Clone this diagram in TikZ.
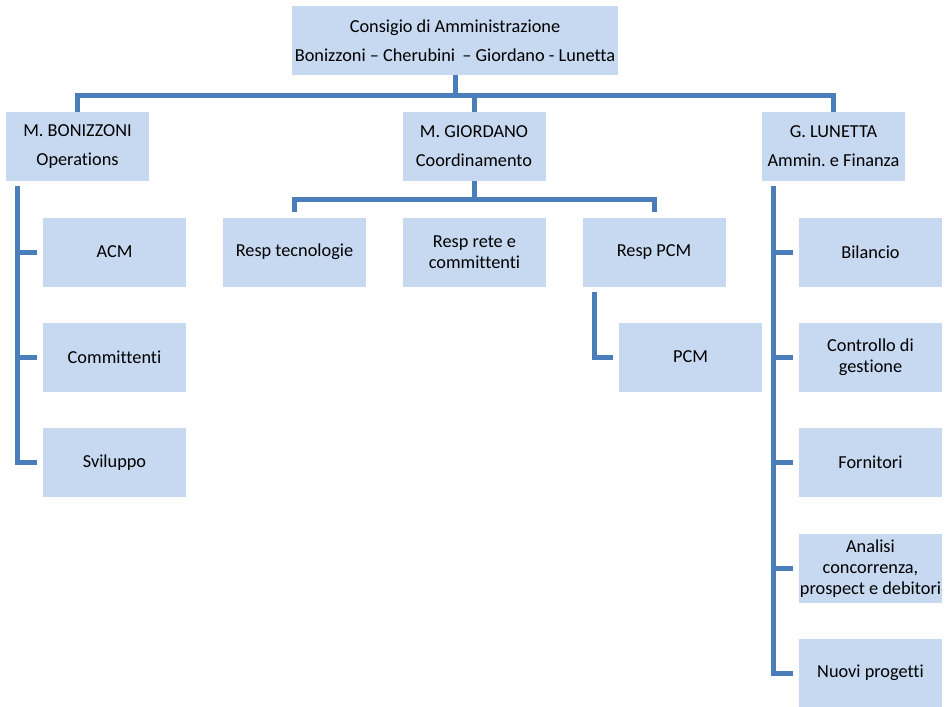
\documentclass[tikz,border=0pt]{standalone}
\usepackage{fontspec}
\setmainfont{Carlito}[Ligatures=NoCommon]
\frenchspacing
\definecolor{boxfill}{HTML}{C6D9F1}
\definecolor{linec}{HTML}{4A7EBB}
\begin{document}
\begin{tikzpicture}[x=1pt,y=-1pt,
  box/.style={fill=boxfill, draw=none, inner sep=0pt, minimum width=143pt, minimum height=69pt,
    align=center, font=\fontsize{18.3pt}{21pt}\selectfont, text=black},
  headbox/.style={box, font=\fontsize{18.3pt}{29pt}\selectfont},
  conn/.style={draw=linec, line width=5pt, line join=miter}]
\useasboundingbox (0,0) rectangle (946,707);
% top
\node[headbox, minimum width=326pt, minimum height=69pt] (top) at (455,40.5) {Consigio di Amministrazione\\Bonizzoni -- Cherubini \,-- Giordano - Lunetta};
% level 2
\node[headbox] (bon) at (77.5,146.5) {M. BONIZZONI\\Operations};
\node[headbox] (gio) at (474,146.5) {M. GIORDANO\\Coordinamento};
\node[headbox] (lun) at (833.5,146.5) {G. LUNETTA\\Ammin. e Finanza};
% Bonizzoni children
\node[box] (acm) at (114.5,252) {ACM};
\node[box] (com) at (114.5,357) {Committenti};
\node[box] (svi) at (114.5,462.5) {Sviluppo};
% Giordano children
\node[box] (rte) at (294.5,252) {Resp tecnologie};
\node[box] (rre) at (474.5,252) {Resp rete e\\committenti};
\node[box] (rpc) at (654,252) {Resp PCM};
\node[box] (pcm) at (690.5,357) {PCM};
% Lunetta children
\node[box] (bil) at (870.5,252) {Bilancio};
\node[box] (ctr) at (870.5,357) {Controllo di\\gestione};
\node[box] (for) at (870.5,462.5) {Fornitori};
\node[box] (ana) at (870.5,568.5) {Analisi\\concorrenza,\\prospect e debitori};
\node[box] (nuo) at (870.5,673) {Nuovi progetti};
% top bus
\coordinate (busy) at (0,95);
\draw[conn] (top.south) -- (top.south |- busy);
\draw[conn] (bon.north) -- (bon.north |- busy) -- (lun.north |- busy) -- (lun.north);
\draw[conn] (gio.north) -- (gio.north |- busy);
% Bonizzoni tree
\coordinate (bt) at (17,186);
\draw[conn] (bt) |- ([xshift=-6pt]svi.west);
\draw[conn] (bt |- acm.west) -- ([xshift=-6pt]acm.west);
\draw[conn] (bt |- com.west) -- ([xshift=-6pt]com.west);
% Giordano tree
\coordinate (gy) at (0,199);
\draw[conn] (gio.south) -- (gio.south |- gy);
\draw[conn] ([yshift=5pt]rte.north) -- (rte.north |- gy) -- (rpc.north |- gy) -- ([yshift=5pt]rpc.north);
% Resp PCM -> PCM
\coordinate (pt) at (594,292);
\draw[conn] (pt) |- ([xshift=-6pt]pcm.west);
% Lunetta tree
\coordinate (lt) at (773,186);
\draw[conn] (lt) |- ([xshift=-6pt]nuo.west);
\draw[conn] (lt |- bil.west) -- ([xshift=-6pt]bil.west);
\draw[conn] (lt |- ctr.west) -- ([xshift=-6pt]ctr.west);
\draw[conn] (lt |- for.west) -- ([xshift=-6pt]for.west);
\draw[conn] (lt |- ana.west) -- ([xshift=-6pt]ana.west);
\end{tikzpicture}
\end{document}
